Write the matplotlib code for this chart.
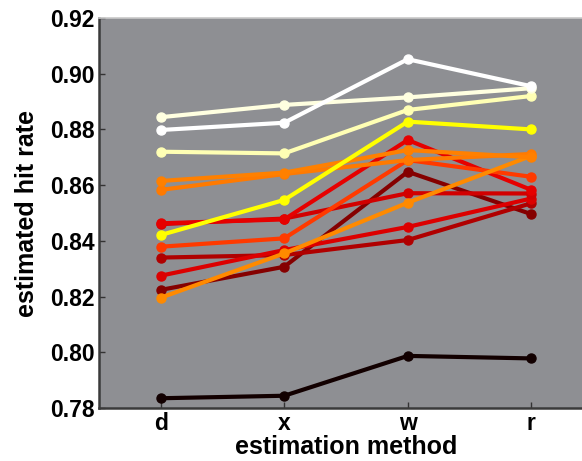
import matplotlib
matplotlib.use("Agg")
import matplotlib.pyplot as plt

methods = ["d", "x", "w", "r"]

# estimated hit rate per condition, one row per line (dark -> light)
black_line   = [0.7835, 0.7844, 0.7987, 0.7978]
maroon_line  = [0.8224, 0.8307, 0.8648, 0.8496]
darkred_line = [0.8340, 0.8349, 0.8403, 0.8535]
red_a_line   = [0.8275, 0.8367, 0.8450, 0.8552]
red_b_line   = [0.8460, 0.8480, 0.8571, 0.8570]
red_c_line   = [0.8463, 0.8477, 0.8762, 0.8583]
redorg_line  = [0.8379, 0.8409, 0.8690, 0.8630]
orange_a     = [0.8196, 0.8355, 0.8537, 0.8705]
orange_b     = [0.8583, 0.8640, 0.8690, 0.8712]
orange_c     = [0.8615, 0.8645, 0.8726, 0.8700]
yellow_line  = [0.8421, 0.8547, 0.8828, 0.8800]
ltyellow     = [0.8720, 0.8714, 0.8870, 0.8920]
cream_line   = [0.8844, 0.8888, 0.8915, 0.8948]
white_line   = [0.8798, 0.8824, 0.9052, 0.8955]

series = [black_line, maroon_line, darkred_line, red_a_line, red_b_line,
          red_c_line, redorg_line, orange_a, orange_b, orange_c,
          yellow_line, ltyellow, cream_line, white_line]
colors = ["#120000", "#850000", "#b00000", "#dc0000", "#d20000",
          "#e60000", "#ff3a00", "#ff8a00", "#ff7a00", "#ff8000",
          "#ffff00", "#ffffb4", "#ffffe0", "#ffffff"]

yticks = [0.78, 0.80, 0.82, 0.84, 0.86, 0.88, 0.90, 0.92]

fig = plt.figure(figsize=(5.82, 4.61), dpi=100)
ax = fig.add_axes([99 / 582, 1 - 408 / 461, (593 - 99) / 582, 390 / 461])
ax.set_facecolor("#8e8f93")

xs = list(range(1, len(methods) + 1))
for vals, c in zip(series, colors):
    ax.plot(xs, vals, color=c, lw=3.0, marker="o", ms=6.5,
            markerfacecolor=c, markeredgecolor=c, solid_capstyle="round")

ax.set_xlim(0.5, 4.5)
ax.set_ylim(0.78, 0.92)
ax.set_xticks(xs)
ax.set_xticklabels(methods)
ax.set_yticks(yticks)
ax.set_yticklabels([f"{t:.2f}" for t in yticks])

font = dict(family="Liberation Sans", weight="bold")
for lab in ax.get_xticklabels() + ax.get_yticklabels():
    lab.set_fontfamily("Liberation Sans")
    lab.set_fontweight("bold")
    lab.set_fontsize(16.5)

ax.tick_params(axis="both", direction="in", length=4, width=1, color="#333333", pad=3)
ax.tick_params(axis="x", pad=3)

ax.set_xlabel("estimation method", fontsize=18, labelpad=0, **font)
ax.set_ylabel("estimated hit rate", fontsize=18, labelpad=8, **font)

for side in ["left", "bottom"]:
    ax.spines[side].set_color("#3a3a3a")
    ax.spines[side].set_linewidth(1.8)
ax.spines["top"].set_color("#c8c8c8")
ax.spines["top"].set_linewidth(1.2)
ax.spines["right"].set_visible(False)

fig.savefig("out.png", dpi=100)
